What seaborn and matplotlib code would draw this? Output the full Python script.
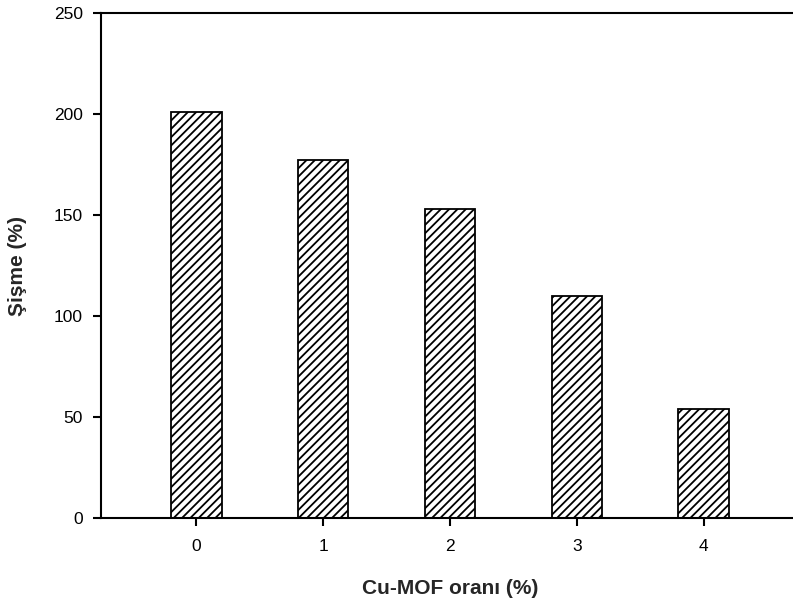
import matplotlib
matplotlib.use("Agg")
import matplotlib.pyplot as plt
import seaborn as sns
import pandas as pd

categories = ["0", "1", "2", "3", "4"]
swelling = [201, 177, 153, 110, 54]
y_ticks = [0, 50, 100, 150, 200, 250]

sns.set_style("ticks")
plt.rcParams['font.family'] = ['Liberation Sans', 'DejaVu Sans']
plt.rcParams['hatch.linewidth'] = 1.3

df = pd.DataFrame({"cat": categories, "val": swelling})

fig = plt.figure(figsize=(7.93, 6.10), dpi=100)
ax = fig.add_axes([101/793, 92/610, (799-101)/793, (518-13)/610])

sns.barplot(data=df, x="cat", y="val", ax=ax, width=0.4, color="white",
            edgecolor="black", linewidth=1.3, hatch="////", saturation=1)
for p in ax.patches:
    p.set_facecolor("white")
    p.set_edgecolor("black")
    p.set_hatch("////")

ax.set_xlim(-0.75, 4.75)
ax.set_ylim(0, 250)
ax.set_yticks(y_ticks)
ax.set_yticklabels([str(t) for t in y_ticks])

for s in ["left", "bottom", "top"]:
    ax.spines[s].set_visible(True)
    ax.spines[s].set_linewidth(1.5)
    ax.spines[s].set_color("black")
ax.spines["right"].set_visible(False)

ax.tick_params(axis="both", direction="out", length=6, width=1.5,
               labelsize=12.5, colors="black")
ax.tick_params(axis="y", pad=7)
ax.tick_params(axis="x", pad=9)

ax.set_xlabel("Cu-MOF oranı (%)", fontsize=15, fontweight="bold", labelpad=18)
ax.set_ylabel("Şişme (%)", fontsize=15, fontweight="bold", labelpad=19)

fig.savefig("out.png", dpi=100)
